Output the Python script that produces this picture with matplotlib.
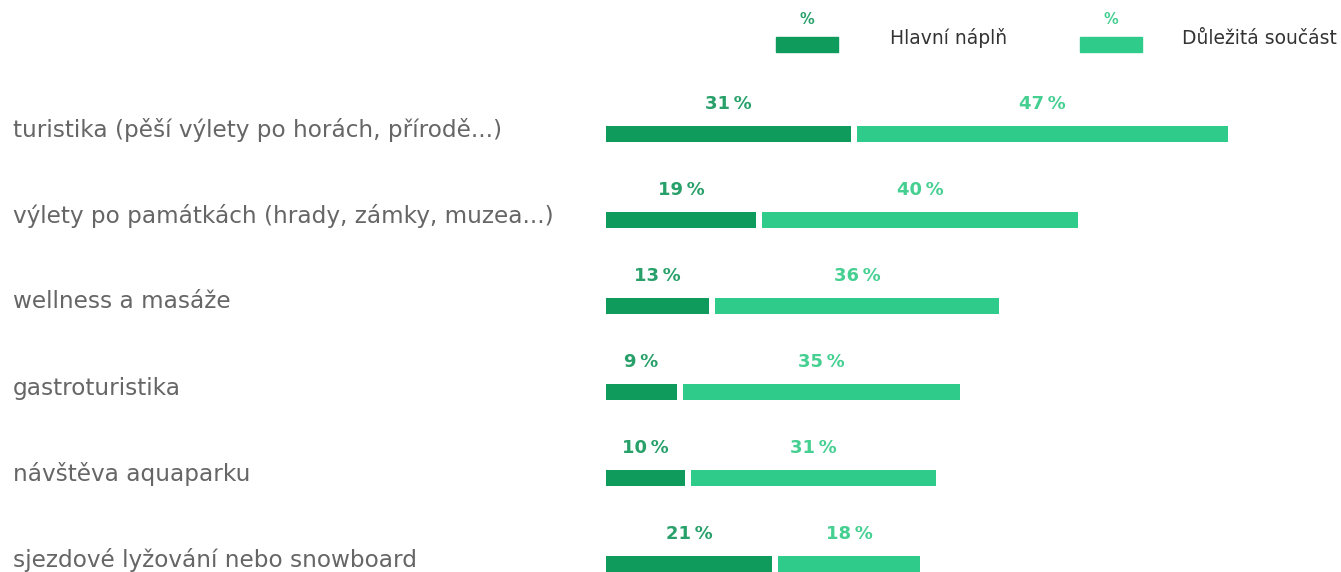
import matplotlib
matplotlib.use("Agg")
import matplotlib.pyplot as plt

categories = [
    "turistika (pěší výlety po horách, přírodě...)",
    "výlety po památkách (hrady, zámky, muzea...)",
    "wellness a masáže",
    "gastroturistika",
    "návštěva aquaparku",
    "sjezdové lyžování nebo snowboard",
]
hlavni = [31, 19, 13, 9, 10, 21]
dulezita = [47, 40, 36, 35, 31, 18]
series_names = ["Hlavní náplň", "Důležitá součást"]

DARK = "#0f9b5c"
LIGHT = "#2ecb8a"
DARK_TXT = "#28a069"
LIGHT_TXT = "#45cf91"

W, H = 1341, 572
fig = plt.figure(figsize=(W / 100, H / 100), dpi=100)
ax = fig.add_axes([0, 0, 1, 1])
ppu = 7.9          # pixels per percent
x0 = 606           # pixel of 0%
row0, rowh = 134, 86
ax.set_xlim(-x0 / ppu, (W - x0) / ppu)
ax.set_ylim((H - row0) / rowh, -row0 / rowh)
ax.axis("off")

gap = 6 / ppu
bh = 16 / rowh
ys = list(range(len(categories)))
ax.barh(ys, hlavni, height=bh, left=0, color=DARK, edgecolor="none")
ax.barh(ys, dulezita, height=bh, left=[h + gap for h in hlavni], color=LIGHT, edgecolor="none")

fam = ["DejaVu Sans"]
for y, cat, a, b in zip(ys, categories, hlavni, dulezita):
    ax.text(-(x0 - 13) / ppu, y - 4 / rowh, cat, ha="left", va="center",
            fontsize=16.7, color="#666666", family=fam, clip_on=False)
    ax.text(a / 2, y - 30 / rowh, f"{a}\u2009%", ha="center", va="center",
            fontsize=13, fontweight="bold", color=DARK_TXT, family=fam)
    ax.text(a + gap + b / 2, y - 30 / rowh, f"{b}\u2009%", ha="center", va="center",
            fontsize=13, fontweight="bold", color=LIGHT_TXT, family=fam)

# legend
def px(x, y):
    return ((x - x0) / ppu, (y - row0) / rowh)

for (sx, tx), name, col, tcol in zip([(776, 890), (1080, 1182)], series_names,
                                      [DARK, LIGHT], [DARK_TXT, LIGHT_TXT]):
    lx, ly = px(sx, 52)
    ax.add_patch(plt.Rectangle((lx, ly), 62 / ppu, -15 / rowh, color=col, clip_on=False))
    cx, cy = px(sx + 31, 20)
    ax.text(cx, cy, "%", ha="center", va="center", fontsize=10.5, color=tcol,
            family=fam, fontweight="bold")
    tx_, ty_ = px(tx, 38)
    ax.text(tx_, ty_, name, ha="left", va="center", fontsize=13.5, color="#333333", family=fam)

fig.savefig("out.png", dpi=100)
